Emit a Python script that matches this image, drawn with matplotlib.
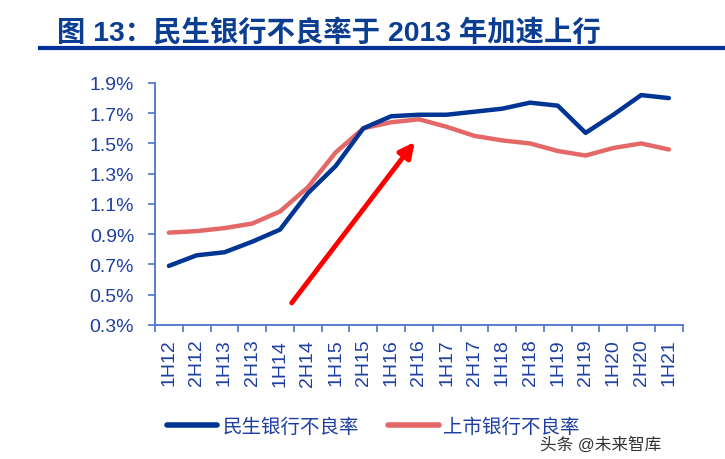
import matplotlib.pyplot as plt
from matplotlib.lines import Line2D

plt.rcParams['font.family'] = ['Liberation Sans', 'Noto Sans CJK SC', 'DejaVu Sans']

periods = ['1H12', '2H12', '1H13', '2H13', '1H14', '2H14', '1H15', '2H15', '1H16', '2H16',
           '1H17', '2H17', '1H18', '2H18', '1H19', '2H19', '1H20', '2H20', '1H21']
minsheng = [0.69, 0.76, 0.78, 0.85, 0.93, 1.17, 1.35, 1.60, 1.68, 1.69,
            1.69, 1.71, 1.73, 1.77, 1.75, 1.57, 1.69, 1.82, 1.80]
listed = [0.91, 0.92, 0.94, 0.97, 1.05, 1.21, 1.44, 1.60, 1.64, 1.66,
          1.61, 1.55, 1.52, 1.50, 1.45, 1.42, 1.47, 1.50, 1.46]
yticks = [0.3, 0.5, 0.7, 0.9, 1.1, 1.3, 1.5, 1.7, 1.9]

navy = '#003594'
salmon = '#E46868'
axis_blue = '#4A74C9'
label_blue = '#1F3FA0'

fig = plt.figure(figsize=(7.25, 4.6), dpi=100)
ax = fig.add_axes([0.2138, 0.2917, 0.728, 0.5257])

x = list(range(len(periods)))
ax.plot(x, listed, color=salmon, lw=3.2, solid_capstyle='round')
ax.plot(x, minsheng, color=navy, lw=3.2, solid_capstyle='round')

# red trend arrow
ax.annotate('', xy=(8.85, 1.51), xytext=(4.42, 0.445),
            arrowprops=dict(arrowstyle='-|>,head_length=0.9,head_width=0.45',
                            color='#FF0000', lw=3.5, shrinkA=0, shrinkB=0))

ax.set_xlim(-0.5, len(periods) - 0.5)
ax.set_ylim(0.3, 1.9)
ax.set_yticks(yticks)
ax.set_yticklabels([f'{v:.1f}%' for v in yticks], fontsize=14, color=label_blue)
ax.set_xticks(x)
ax.set_xticklabels(periods, rotation=90, fontsize=14, color=label_blue)
ax.set_xticks([i - 0.5 for i in range(len(periods) + 1)], minor=True)
ax.tick_params(axis='x', which='major', length=0, pad=10)
ax.tick_params(axis='x', which='minor', length=5, color=axis_blue, width=1.2)
ax.tick_params(axis='y', length=5, color=axis_blue, width=1.2, pad=10)

for s in ['top', 'right']:
    ax.spines[s].set_visible(False)
for s in ['left', 'bottom']:
    ax.spines[s].set_color(axis_blue)
    ax.spines[s].set_linewidth(1.3)

# title and rule
fig.text(0.079, 0.93, '图 13：民生银行不良率于 2013 年加速上行', fontsize=20.4,
         fontweight='bold', color='#0B3D91', va='center', ha='left')
fig.add_artist(Line2D([0.055, 1.0], [0.893, 0.893], color='#003399', lw=3))

# legend
handles = [Line2D([], [], color=navy, lw=4, solid_capstyle='round'),
           Line2D([], [], color=salmon, lw=4, solid_capstyle='round')]
leg = fig.legend(handles, ['民生银行不良率', '上市银行不良率'], loc='center',
                 bbox_to_anchor=(0.515, 0.07), ncol=2, frameon=False,
                 fontsize=14, handlelength=2.6, handletextpad=0.25, columnspacing=1.5)
for t in leg.get_texts():
    t.set_color(label_blue)

fig.text(0.745, 0.033, '头条 @未来智库', fontsize=12, color='#333333',
         va='center', ha='left')

fig.savefig('out.png', dpi=100)
